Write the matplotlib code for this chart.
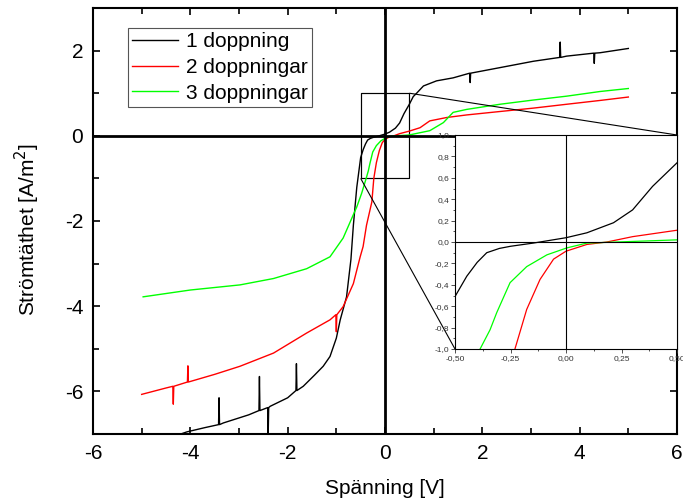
import matplotlib
matplotlib.use("Agg")
import matplotlib.pyplot as plt
from matplotlib.patches import Rectangle
from matplotlib.ticker import MultipleLocator
from mpl_toolkits.axes_grid1.inset_locator import mark_inset

plt.rcParams["font.family"] = ["Liberation Sans", "DejaVu Sans"]
plt.rcParams["axes.unicode_minus"] = False

# Strömtäthet vs spänning
x_1 = [-4.45, -4.07, -3.7, -3.42, -3.41, -3.40, -3.32, -2.8, -2.59, -2.58, -2.57,
       -2.41, -2.40, -2.39, -2.36, -2.0, -1.83, -1.82, -1.81, -1.68, -1.45, -1.27,
       -1.13, -1.0, -0.92, -0.79, -0.70, -0.65, -0.58, -0.5, -0.447, -0.40, -0.357,
       -0.30, -0.25, -0.147, 0.0, 0.094, 0.214, 0.30, 0.39, 0.5, 0.58, 0.65, 0.79,
       1.06, 1.40, 1.74, 1.75, 1.76, 2.36, 3.05, 3.59, 3.60, 3.61, 3.73, 4.29,
       4.30, 4.31, 4.42, 5.0]
y_1 = [-7.1, -6.95, -6.85, -6.78, -6.15, -6.78, -6.74, -6.55, -6.45, -5.65, -6.45,
       -6.38, -7.0, -6.38, -6.35, -6.15, -5.98, -5.35, -5.98, -5.88, -5.62, -5.41,
       -5.18, -4.75, -4.32, -3.78, -2.9, -2.1, -1.21, -0.51, -0.32, -0.19, -0.10,
       -0.06, -0.04, -0.01, 0.04, 0.086, 0.18, 0.30, 0.52, 0.74, 0.92, 1.0, 1.17,
       1.29, 1.36, 1.47, 1.25, 1.47, 1.60, 1.75, 1.84, 2.2, 1.84, 1.87, 1.94,
       1.7, 1.94, 1.95, 2.05]

x_2 = [-5.0, -4.5, -4.36, -4.35, -4.34, -4.06, -4.05, -4.04, -3.5, -2.98, -2.29,
       -1.61, -1.13, -1.01, -1.0, -0.99, -0.86, -0.65, -0.51, -0.45, -0.38, -0.27,
       -0.23, -0.177, -0.117, -0.056, 0.0, 0.094, 0.184, 0.30, 0.5, 0.72, 0.92,
       1.27, 1.68, 2.36, 3.05, 3.73, 4.42, 5.0]
y_2 = [-6.07, -5.92, -5.88, -6.3, -5.88, -5.78, -5.4, -5.78, -5.6, -5.41, -5.10,
       -4.63, -4.32, -4.2, -4.6, -4.2, -4.01, -3.47, -2.84, -2.6, -2.1, -1.55,
       -1.0, -0.63, -0.35, -0.16, -0.086, -0.023, 0.0, 0.05, 0.11, 0.19, 0.35,
       0.43, 0.49, 0.57, 0.65, 0.74, 0.83, 0.91]

x_3 = [-4.97, -4.0, -2.98, -2.29, -1.61, -1.13, -0.86, -0.65, -0.58, -0.48, -0.387,
       -0.342, -0.312, -0.252, -0.177, -0.086, 0.004, 0.094, 0.23, 0.5, 0.92,
       1.20, 1.40, 1.68, 2.36, 3.05, 3.73, 4.42, 5.0]
y_3 = [-3.78, -3.62, -3.50, -3.35, -3.12, -2.84, -2.40, -1.85, -1.67, -1.35, -1.0,
       -0.82, -0.66, -0.38, -0.23, -0.12, -0.055, -0.01, 0.0, 0.02, 0.12,
       0.31, 0.55, 0.62, 0.74, 0.84, 0.93, 1.04, 1.11]

labels = ["1 doppning", "2 doppningar", "3 doppningar"]
colors = ["black", "#ff0000", "#00ff00"]

inset_xticks = [-0.5, -0.25, 0.0, 0.25, 0.5]
inset_xticklabels = ["-0,50", "-0,25", "0,00", "0,25", "0,50"]
inset_yticks = [-1.0, -0.8, -0.6, -0.4, -0.2, 0.0, 0.2, 0.4, 0.6, 0.8, 1.0]
inset_yticklabels = ["-1,0", "-0,8", "-0,6", "-0,4", "-0,2", "0,0",
                     "0,2", "0,4", "0,6", "0,8", "1,0"]

series = [(x_1, y_1), (x_2, y_2), (x_3, y_3)]

fig = plt.figure(figsize=(6.83, 5.04), dpi=100)
ax = fig.add_axes([93 / 683, 70 / 504, 584 / 683, 426 / 504])

for (xs, ys), lab, col in zip(series, labels, colors):
    ax.plot(xs, ys, color=col, lw=1.0, label=lab)

ax.axhline(0, color="black", lw=2)
ax.axvline(0, color="black", lw=2)
ax.add_patch(Rectangle((-0.5, -1), 1, 2, fill=False, ec="#444444", lw=0.8))

ax.set_xlim(-6, 6)
ax.set_ylim(-7, 3)
ax.xaxis.set_major_locator(MultipleLocator(2))
ax.xaxis.set_minor_locator(MultipleLocator(1))
ax.yaxis.set_major_locator(MultipleLocator(2))
ax.yaxis.set_minor_locator(MultipleLocator(1))
ax.tick_params(which="both", direction="in", top=True, right=True, width=1.2)
ax.tick_params(which="major", length=5, labelsize=15, pad=7)
ax.tick_params(which="minor", length=4)
for sp in ax.spines.values():
    sp.set_linewidth(1.5)

ax.set_xlabel("Spänning [V]", fontsize=15, labelpad=12)
ax.set_ylabel("Strömtäthet [A/m$^2$]", fontsize=15)
ax.yaxis.set_label_coords(-0.087, 0.48)

leg = ax.legend(loc="upper left", bbox_to_anchor=(0.060, 0.953), fontsize=15,
                fancybox=False, edgecolor="#555555", framealpha=1,
                handlelength=2.2, handletextpad=0.4, borderpad=0.2,
                labelspacing=0.32, borderaxespad=0)
leg.get_frame().set_linewidth(0.8)

# inset zoom around origin
axins = fig.add_axes([455 / 683, 155 / 504, 222 / 683, 214 / 504])
for (xs, ys), col in zip(series, colors):
    axins.plot(xs, ys, color=col, lw=0.9)
axins.axhline(0, color="black", lw=0.8)
axins.axvline(0, color="black", lw=0.8)
axins.set_xlim(-0.5, 0.5)
axins.set_ylim(-1, 1)
axins.set_xticks(inset_xticks)
axins.set_xticklabels(inset_xticklabels)
axins.set_yticks(inset_yticks)
axins.set_yticklabels(inset_yticklabels)
axins.xaxis.set_minor_locator(MultipleLocator(0.125))
axins.yaxis.set_minor_locator(MultipleLocator(0.1))
axins.tick_params(which="both", direction="out", labelsize=6, pad=1,
                  colors="#333333", width=0.6)
axins.tick_params(which="major", length=3)
axins.tick_params(which="minor", length=1.5)
for sp in axins.spines.values():
    sp.set_linewidth(0.8)

mark_inset(ax, axins, loc1=1, loc2=3, fc="none", ec="black", lw=0.8)

fig.savefig("out.png", dpi=100)
